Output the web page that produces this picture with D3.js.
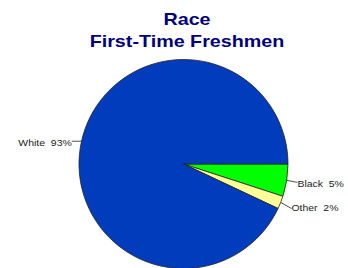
<!DOCTYPE html>
<html><head><meta charset="utf-8">
<script src="https://cdn.jsdelivr.net/npm/d3@7"></script>
<style>body{margin:0;background:#fff}svg{display:block}</style>
</head><body>
<script>
const categories = ["Black", "Other", "White"];
const values = [5, 2, 93];
const labels = ["Black  5%", "Other  2%", "White  93%"];
const colors = ["#00ff00", "#ffff99", "#003cbc"];
const titleLines = ["Race", "First-Time Freshmen"];

const W = 348, H = 268, cx = 183.5, cy = 164, r = 104.5;
const svg = d3.select("body").append("svg").attr("width", W).attr("height", H);

titleLines.forEach((t, i) => {
  svg.append("text").attr("text-anchor", "middle")
    .attr("transform", `translate(187,${25 + i * 21.7}) scale(1.16,1)`)
    .attr("font-family", "Liberation Sans, Arial, sans-serif")
    .attr("font-weight", "bold").attr("font-size", 17).attr("fill", "#000080")
    .text(t);
});

const pie = d3.pie().sort(null).value(d => d).startAngle(Math.PI / 2).endAngle(Math.PI / 2 + 2 * Math.PI);
const arcs = pie(values);
const arc = d3.arc().innerRadius(0).outerRadius(r);
const g = svg.append("g").attr("transform", `translate(${cx},${cy})`);
g.selectAll("path").data(arcs).join("path")
  .attr("d", arc).attr("fill", (d, i) => colors[i])
  .attr("stroke", "#222").attr("stroke-width", 0.8);

const inner = d3.arc().innerRadius(r).outerRadius(r);
const leaderDy = [2, 6, 0];
const textDy = [4.5, 2.5, 4.5];
arcs.forEach((d, i) => {
  const a = (d.startAngle + d.endAngle) / 2;
  const p1 = inner.centroid(d);
  const right = Math.sin(a) > 0;
  const p2 = [p1[0] + (right ? 10.8 : -9.8), p1[1] + leaderDy[i]];
  g.append("line").attr("x1", p1[0]).attr("y1", p1[1]).attr("x2", p2[0]).attr("y2", p2[1])
    .attr("stroke", "#222").attr("stroke-width", 0.8);
  g.append("text")
    .attr("transform", `translate(${p2[0]},${p2[1] + textDy[i]}) scale(1.1,1)`)
    .attr("text-anchor", right ? "start" : "end")
    .attr("font-family", "Liberation Sans, Arial, sans-serif").attr("font-size", 9.5)
    .attr("fill", "#222").style("white-space", "pre").text(labels[i]);
});
</script>
</body></html>
